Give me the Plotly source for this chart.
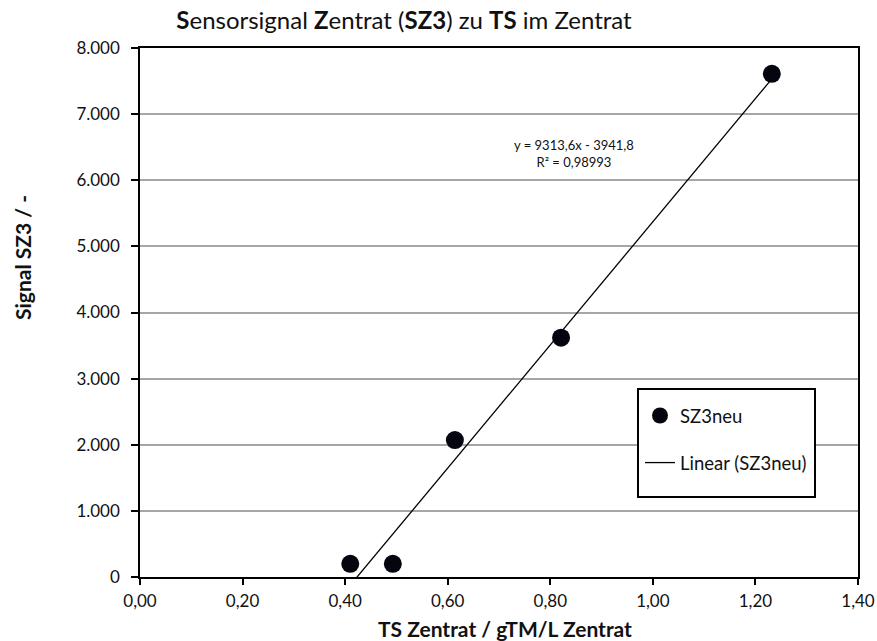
import plotly.graph_objects as go

# data
ts = [0.41, 0.493, 0.614, 0.821, 1.232]
signal = [200, 200, 2070, 3620, 7610]
slope = 9313.6
intercept = -3941.8
r2_text = "R² = 0,98993"
eq_text = "y = 9313,6x - 3941,8"
x_ticks = [0, 0.2, 0.4, 0.6, 0.8, 1.0, 1.2, 1.4]
y_ticks = [0, 1000, 2000, 3000, 4000, 5000, 6000, 7000, 8000]

trend_x = [min(ts), max(ts)]
trend_y = [slope * v + intercept for v in trend_x]

FONT = "Lato"
W, H = 877, 641
L, R, T, B = 140, 19, 48, 64
PW, PH = W - L - R, H - T - B


def px(xp):
    return (xp - L) / PW


def py(yp):
    return (H - B - yp) / PH


fig = go.Figure()
fig.add_trace(go.Scatter(
    x=ts, y=signal, mode="markers", name="SZ3neu", legendgroup="a",
    marker=dict(size=18, color="#05050f", line=dict(width=0)),
    cliponaxis=False,
))
fig.add_trace(go.Scatter(
    x=trend_x, y=trend_y, mode="lines", name="Linear (SZ3neu)", legendgroup="b",
    line=dict(color="black", width=1.3),
))

fig.update_layout(
    width=W, height=H,
    margin=dict(l=L, r=R, t=T, b=B, autoexpand=False),
    paper_bgcolor="white", plot_bgcolor="white",
    separators=",.",
    font=dict(family=FONT, size=17, color="#111"),
    showlegend=True,
    legend=dict(
        x=px(640), y=py(397), xanchor="left", yanchor="top",
        borderwidth=0, bgcolor="rgba(0,0,0,0)",
        font=dict(family=FONT, size=18.5, color="#111"),
        tracegroupgap=20, itemwidth=30,
    ),
    title=dict(
        text="<b>S</b>ensorsignal <b>Z</b>entrat (<b>SZ3</b>) zu <b>TS</b> im Zentrat",
        x=404 / W, xanchor="center", y=1 - 21 / H, yanchor="middle",
        font=dict(family=FONT, size=24, color="#111"),
    ),
    shapes=[dict(
        type="rect", xref="paper", yref="paper",
        x0=px(638), x1=px(815), y0=py(497), y1=py(389),
        line=dict(color="black", width=2), fillcolor="white", layer="above",
    )],
)

fig.update_xaxes(
    range=[0, 1.4], tickvals=x_ticks, tickformat=".2f", automargin=False,
    showgrid=False, zeroline=False,
    showline=True, linecolor="black", linewidth=1.5, mirror=True,
    ticks="outside", ticklen=6, tickcolor="black", tickwidth=1.5,
    ticklabelstandoff=2,
)
fig.update_yaxes(
    range=[0, 8000], tickvals=y_ticks, tickformat=",.0f", automargin=False,
    showgrid=True, gridcolor="#a6a6a6", gridwidth=1.5, zeroline=False,
    showline=True, linecolor="black", linewidth=1.5, mirror=True,
    ticks="outside", ticklen=7, tickcolor="black", tickwidth=1.5,
    ticklabelstandoff=8,
)

fig.add_annotation(
    xref="paper", yref="paper", x=px(505), y=py(628), xanchor="center", yanchor="middle",
    showarrow=False, text="<b>TS Zentrat / gTM/L Zentrat</b>",
    font=dict(family=FONT, size=21, color="#111"),
)
fig.add_annotation(
    xref="paper", yref="paper", x=px(22), y=py(258), xanchor="center", yanchor="middle",
    showarrow=False, text="<b>Signal SZ3 / -</b>", textangle=-90,
    font=dict(family=FONT, size=21, color="#111"),
)
fig.add_annotation(
    xref="x", yref="y", x=0.846, y=6400, xanchor="center", yanchor="middle",
    showarrow=False,
    text=eq_text + "<br>" + r2_text,
    font=dict(family=FONT, size=13, color="#111"),
)

fig.write_html("out.html")
